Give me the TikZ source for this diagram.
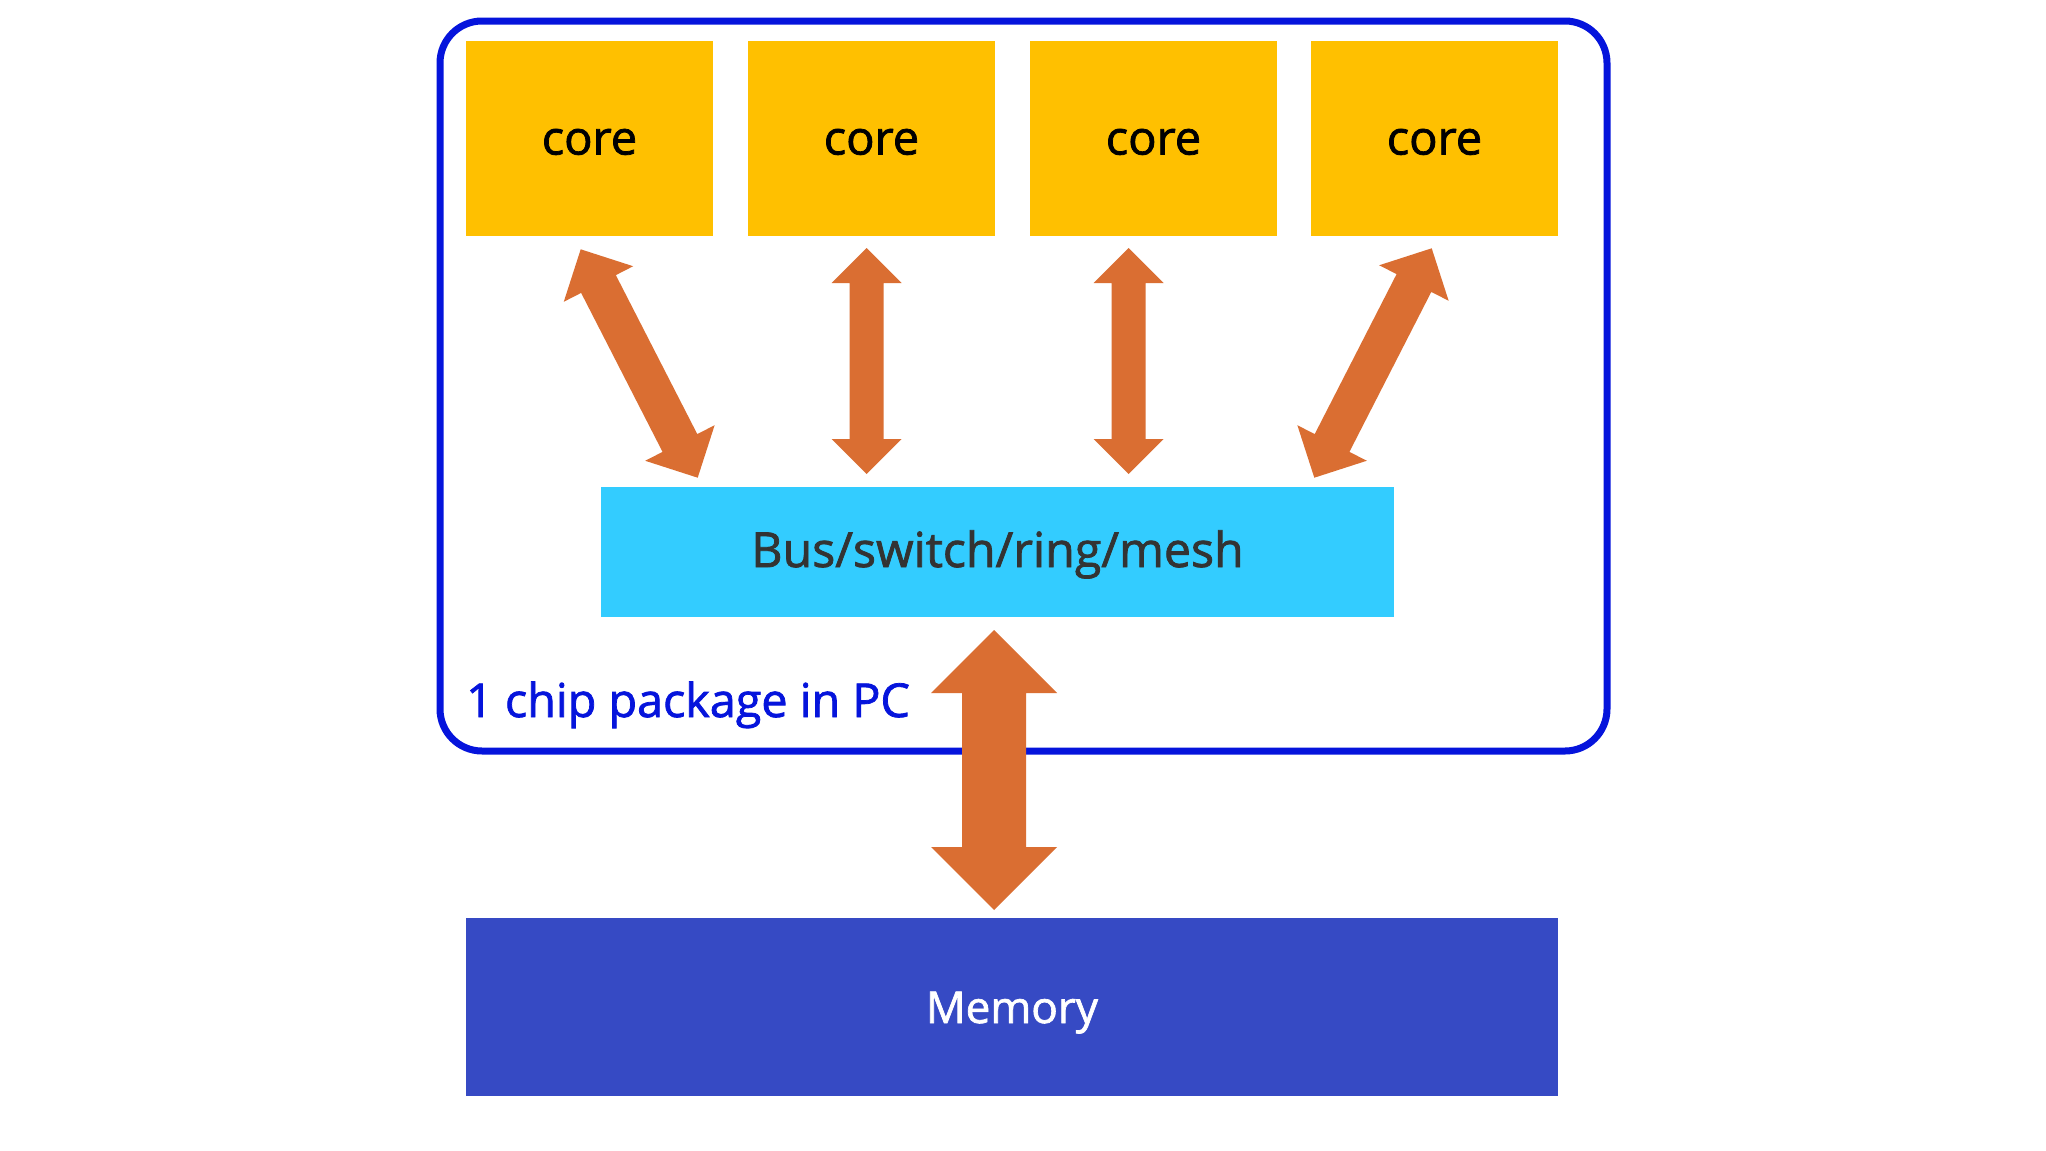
\documentclass[tikz,border=0pt]{standalone}
\usepackage{fontspec}
\setmainfont{Open Sans}
\newfontfamily\heavysans{Open Sans}[FakeBold=1.6]
\usetikzlibrary{calc}
\definecolor{coreyellow}{RGB}{255,192,0}
\definecolor{busblue}{RGB}{51,204,255}
\definecolor{memblue}{RGB}{54,74,196}
\definecolor{pkgblue}{RGB}{5,20,220}
\definecolor{arroworange}{RGB}{218,110,50}
\definecolor{bustext}{RGB}{51,51,51}
\newcommand\basetext[2]{\raisebox{-#1}[0pt][0pt]{#2}}
\tikzset{
  corebox/.style={fill=coreyellow, minimum width=247pt, minimum height=195pt, inner sep=0pt, outer sep=0pt, font=\heavysans\fontsize{47}{54}\selectfont, text=black},
  busbox/.style={fill=busblue, minimum width=793pt, minimum height=130pt, inner sep=0pt, outer sep=0pt, font=\heavysans\fontsize{48.3}{55}\selectfont, text=bustext},
  membox/.style={fill=memblue, minimum width=1092pt, minimum height=178pt, inner sep=0pt, outer sep=0pt, font=\heavysans\fontsize{44}{50}\selectfont, text=white},
  pkgbox/.style={draw=pkgblue, line width=7pt, rounded corners=42pt},
  pkglabel/.style={font=\heavysans\fontsize{46.7}{52}\selectfont, text=pkgblue, inner sep=0pt, anchor=base west},
  arrowfill/.style={fill=arroworange}
}
% #1 tip A, #2 tip B, #3 shaft half width, #4 head half width, #5 head length
\newcommand\orangearrow[5]{%
  \coordinate (oaP1) at ($(#1)!#5!(#2)$);
  \coordinate (oaP2) at ($(#2)!#5!(#1)$);
  \fill[arrowfill] (#1)
    -- ($(oaP1)!#4!90:(#2)$) -- ($(oaP1)!#3!90:(#2)$)
    -- ($(oaP2)!#3!-90:(#1)$) -- ($(oaP2)!#4!-90:(#1)$)
    -- (#2)
    -- ($(oaP2)!#4!90:(#1)$) -- ($(oaP2)!#3!90:(#1)$)
    -- ($(oaP1)!#3!-90:(#2)$) -- ($(oaP1)!#4!-90:(#2)$)
    -- cycle;
}
\begin{document}
\begin{tikzpicture}[x=1pt,y=-1pt]
\fill[white] (0,0) rectangle (2046,1151);
\useasboundingbox (0,0) rectangle (2046,1151);

% package outline
\draw[pkgbox] (440,21) rectangle (1607,751);

% cores
\node[corebox] (c1) at (589.5,138.5) {\basetext{16pt}{core}};
\node[corebox] (c2) at (871.5,138.5) {\basetext{16pt}{core}};
\node[corebox] (c3) at (1153.5,138.5) {\basetext{16pt}{core}};
\node[corebox] (c4) at (1434.5,138.5) {\basetext{16pt}{core}};

% bus
\node[busbox] (bus) at (997.5,552) {\basetext{15pt}{Bus/switch/ring/mesh}};

% memory
\node[membox] (mem) at (1012,1007) {\basetext{16pt}{Memory}};

% label
\node[pkglabel] (lbl) at (466,717) {1 chip package in PC};

% arrow end points
\coordinate (a1t) at (580.7,249.3);
\coordinate (a1b) at (697.7,477.7);
\coordinate (a2t) at (866.7,248);
\coordinate (a2b) at (866.7,474);
\coordinate (a3t) at (1128.7,248);
\coordinate (a3b) at (1128.7,474);
\coordinate (a4t) at (1431.7,248.3);
\coordinate (a4b) at (1314.3,477.7);
\coordinate (a5t) at (994,630);
\coordinate (a5b) at (994,910);

\orangearrow{a1t}{a1b}{19.5pt}{39pt}{39pt}
\orangearrow{a2t}{a2b}{17pt}{35pt}{35pt}
\orangearrow{a3t}{a3b}{17pt}{35pt}{35pt}
\orangearrow{a4t}{a4b}{19.5pt}{39pt}{39pt}
\orangearrow{a5t}{a5b}{32pt}{63pt}{63pt}
\end{tikzpicture}
\end{document}
